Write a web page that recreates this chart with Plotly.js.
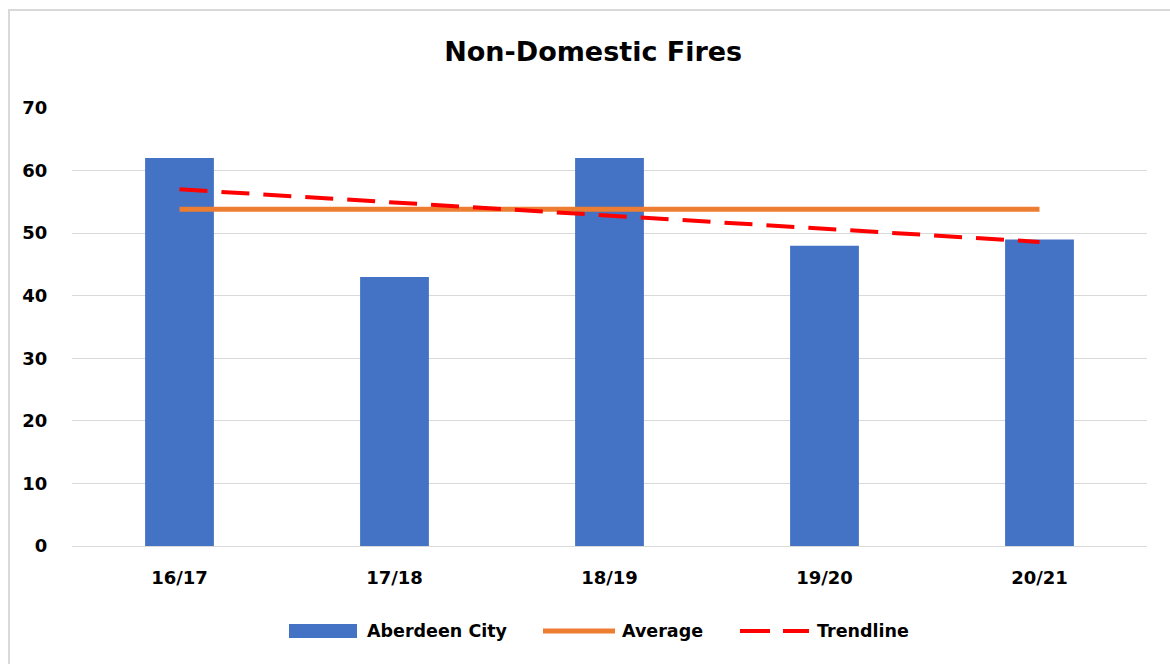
<!DOCTYPE html>
<html>
<head>
<meta charset="utf-8">
<script src="https://cdn.plot.ly/plotly-3.0.1.min.js"></script>
<style>
  body { margin: 0; background: #fff; }
  #chart { width: 1170px; height: 664px; }
  #frame { position: absolute; left: 8px; top: 9px; width: 1170px; height: 670px;
           border: 2px solid #d9d9d9; pointer-events: none; }
</style>
</head>
<body>
<div id="chart"></div>
<div id="frame"></div>
<script>
// Non-Domestic Fires - Aberdeen City

var years = ['16/17', '17/18', '18/19', '19/20', '20/21'];
var fires = [62, 43, 62, 48, 49];
var average = [53.8, 53.8, 53.8, 53.8, 53.8];
var trend = [57.0, 54.9, 52.8, 50.7, 48.6];
var names = ['Aberdeen City', 'Average', 'Trendline'];

var font = 'DejaVu Sans, sans-serif';
var blue = '#4472C4', orange = '#ED7D31', red = '#FF0000';

// plot area in pixels (for the hand-made legend below)
var L = 72, R = 23, T = 108, B = 118, W = 1170, H = 664;
var pw = W - L - R, ph = H - T - B;
function px(x) { return (x - L) / pw; }
function py(y) { return (H - B - y) / ph; }

var barFires = {
    x: years,
    y: fires,
    type: 'bar',
    name: names[0],
    marker: { color: blue }
};

var lineAvg = {
    x: years,
    y: average,
    type: 'scatter',
    mode: 'lines',
    name: names[1],
    line: { color: orange, width: 5 }
};

var lineTrend = {
    x: years,
    y: trend,
    type: 'scatter',
    mode: 'lines',
    name: names[2],
    line: { color: red, width: 4, dash: '28px,14px' }
};

// legend drawn by hand so the symbols are as wide as in the original
var legY = 631;
var shapes = [
    { type: 'rect', xref: 'paper', yref: 'paper', x0: px(289), x1: px(357), y0: py(624), y1: py(638),
      fillcolor: blue, line: { width: 0 } },
    { type: 'line', xref: 'paper', yref: 'paper', x0: px(543), x1: px(615), y0: py(legY), y1: py(legY),
      line: { color: orange, width: 5 } },
    { type: 'line', xref: 'paper', yref: 'paper', x0: px(740), x1: px(809), y0: py(legY), y1: py(legY),
      line: { color: red, width: 4, dash: '30px,13px' } }
];
var legX = [365, 620, 815];
var annotations = names.map(function (n, i) {
    return {
        text: '<b>' + n + '</b>', xref: 'paper', yref: 'paper',
        x: px(legX[i]), y: py(legY), xanchor: 'left', yanchor: 'middle',
        showarrow: false, font: { family: font, size: 17.5, color: '#000' }
    };
});

var layout = {
    width: W,
    height: H,
    margin: { l: L, r: R, t: T, b: B },
    paper_bgcolor: '#fff',
    plot_bgcolor: '#fff',
    title: {
        text: '<b>Non-Domestic Fires</b>',
        font: { family: font, size: 27, color: '#000' },
        x: 0.507,
        xanchor: 'center',
        y: 0.922,
        yanchor: 'middle'
    },
    font: { family: font, color: '#000' },
    bargap: 0.68,
    showlegend: false,
    xaxis: {
        tickfont: { size: 18, family: font },
        tickprefix: '<b>', ticksuffix: '</b>',
        showline: false,
        ticks: 'outside',
        ticklen: 15,
        tickcolor: 'rgba(0,0,0,0)'
    },
    yaxis: {
        range: [0, 70],
        dtick: 10,
        tickfont: { size: 18, family: font },
        tickprefix: '<b>', ticksuffix: '</b>',
        gridcolor: '#d9d9d9',
        gridwidth: 1,
        zeroline: true,
        zerolinecolor: '#d9d9d9',
        zerolinewidth: 1,
        ticks: 'outside',
        ticklen: 20,
        tickcolor: 'rgba(0,0,0,0)'
    },
    shapes: shapes,
    annotations: annotations
};

Plotly.newPlot('chart', [barFires, lineAvg, lineTrend], layout, { displayModeBar: false });
</script>
</body>
</html>
